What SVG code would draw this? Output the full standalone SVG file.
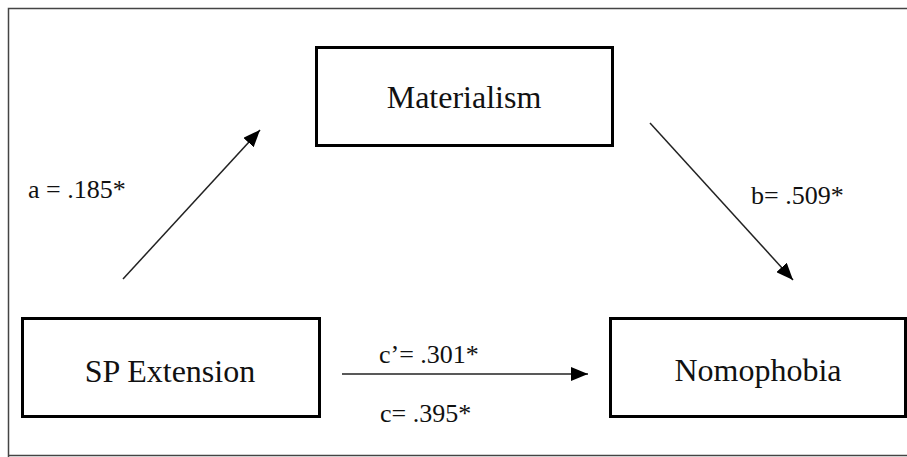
<svg xmlns="http://www.w3.org/2000/svg" width="907" height="457" viewBox="0 0 907 457">
  <defs>
    <marker id="arrow" markerUnits="userSpaceOnUse" markerWidth="18" markerHeight="14" refX="17" refY="7" orient="auto">
      <path d="M0,0 L17,7 L0,14 Z" fill="#000"/>
    </marker>
    <style>
      .box { fill: #fff; stroke: #000; stroke-width: 3; }
      .lbl { font-family: "Liberation Serif", "Times New Roman", serif; font-size: 32px; fill: #111; text-anchor: middle; }
      .coef { font-family: "Liberation Serif", "Times New Roman", serif; font-size: 26px; fill: #111; }
      .conn { stroke: #222; stroke-width: 1.5; fill: none; marker-end: url(#arrow); }
    </style>
  </defs>
  <rect x="0" y="0" width="907" height="457" fill="#fff"/>
  <path d="M8.5,460 L8.5,8.5 L910,8.5 M8.5,455.5 L910,455.5" fill="none" stroke="#444" stroke-width="1.5"/>

  <g id="materialism">
    <rect class="box" x="316.5" y="47.5" width="296" height="98"/>
    <text class="lbl" x="464" y="108">Materialism</text>
  </g>
  <g id="sp-extension">
    <rect class="box" x="22.5" y="318.5" width="297" height="98"/>
    <text class="lbl" x="170" y="382">SP Extension</text>
  </g>
  <g id="nomophobia">
    <rect class="box" x="610.5" y="318.5" width="295" height="98"/>
    <text class="lbl" x="758" y="381">Nomophobia</text>
  </g>

  <g id="connectors">
    <line class="conn" x1="123" y1="279" x2="260" y2="130"/>
    <line class="conn" x1="650" y1="123" x2="793" y2="280"/>
    <line class="conn" x1="342" y1="374" x2="588" y2="374"/>
    <text class="coef" x="28" y="198">a = .185*</text>
    <text class="coef" x="751" y="204">b= .509*</text>
    <text class="coef" x="379" y="363">c’= .301*</text>
    <text class="coef" x="380" y="422">c= .395*</text>
  </g>
</svg>
